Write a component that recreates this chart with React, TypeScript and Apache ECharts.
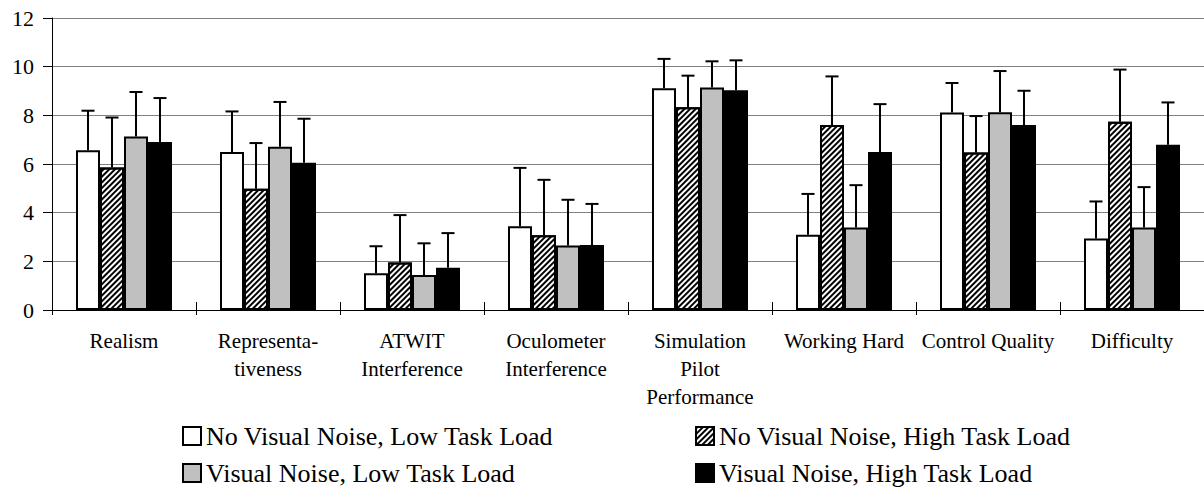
import React, { useEffect, useRef } from "react";
import * as echarts from "echarts";

const categories = [
  "Realism",
  "Representa-\ntiveness",
  "ATWIT\nInterference",
  "Oculometer\nInterference",
  "Simulation\nPilot\nPerformance",
  "Working Hard",
  "Control Quality",
  "Difficulty",
];

const seriesNames = [
  "No Visual Noise, Low Task Load",
  "No Visual Noise, High Task Load",
  "Visual Noise, Low Task Load",
  "Visual Noise, High Task Load",
];

const noNoiseLow = [6.56, 6.49, 1.51, 3.44, 9.11, 3.09, 8.12, 2.94];
const noNoiseHigh = [5.86, 4.98, 1.95, 3.07, 8.33, 7.6, 6.47, 7.74];
const noiseLow = [7.13, 6.71, 1.44, 2.65, 9.14, 3.39, 8.13, 3.39];
const noiseHigh = [6.9, 6.05, 1.74, 2.67, 9.03, 6.49, 7.6, 6.79];

const errNoNoiseLow = [1.63, 1.67, 1.11, 2.4, 1.21, 1.68, 1.21, 1.52];
const errNoNoiseHigh = [2.05, 1.88, 1.95, 2.28, 1.3, 2.0, 1.5, 2.14];
const errNoiseLow = [1.83, 1.84, 1.3, 1.88, 1.08, 1.74, 1.69, 1.66];
const errNoiseHigh = [1.81, 1.81, 1.42, 1.69, 1.23, 1.97, 1.41, 1.74];

const yTicks = [0, 2, 4, 6, 8, 10, 12];

const FONT = "Liberation Serif";
const BAR_W = 24;

export default function App() {
  const ref = useRef<HTMLDivElement>(null);
  useEffect(() => {
    if (!ref.current) return;
    const chart = echarts.init(ref.current, null, { renderer: "svg" });
    const values = [noNoiseLow, noNoiseHigh, noiseLow, noiseHigh];
    const errs = [errNoNoiseLow, errNoNoiseHigh, errNoiseLow, errNoiseHigh];
    const hatch = {
      symbol: "rect",
      symbolSize: 1,
      color: "#000",
      backgroundColor: "#fff",
      dashArrayX: [1, 0],
      dashArrayY: [1.4, 1.4],
      rotation: -Math.PI / 4,
    };
    const fills = ["#ffffff", "#ffffff", "#c0c0c0", "#000000"];

    const barSeries = values.map((vals, i) => ({
      type: "bar",
      name: seriesNames[i],
      data: vals,
      barWidth: BAR_W,
      barGap: "0%",
      itemStyle: {
        color: fills[i],
        borderColor: "#000",
        borderWidth: 2,
        ...(i === 1 ? { decal: hatch } : {}),
      },
      z: 2,
    }));

    const errSeries = values.map((vals, i) => ({
      type: "custom",
      name: "err" + i,
      z: 4,
      data: vals.map((v, k) => [k, v, errs[i][k]]),
      encode: { x: 0, y: 1 },
      renderItem: (params: any, api: any) => {
        const cat = api.value(0);
        const v = api.value(1);
        const e = api.value(2);
        const base = api.coord([cat, v]);
        const top = api.coord([cat, v + e]);
        const x = base[0] + (i - 1.5) * BAR_W;
        return {
          type: "group",
          children: [
            {
              type: "line",
              shape: { x1: x, y1: base[1], x2: x, y2: top[1] },
              style: { stroke: "#000", lineWidth: 2 },
            },
            {
              type: "line",
              shape: { x1: x - 6.5, y1: top[1], x2: x + 6.5, y2: top[1] },
              style: { stroke: "#000", lineWidth: 2 },
            },
          ],
        };
      },
    }));

    const legendPos = [
      { left: 182, top: 422 },
      { left: 695, top: 422 },
      { left: 182, top: 459 },
      { left: 695, top: 459 },
    ];
    const legends = seriesNames.map((n, i) => ({
      data: [n],
      left: legendPos[i].left,
      top: legendPos[i].top,
      padding: 0,
      itemWidth: 18,
      itemHeight: 18,
      icon: "rect",
      itemStyle: { borderColor: "#000", borderWidth: 2 },
      textStyle: { fontFamily: FONT, fontSize: 26, color: "#000", lineHeight: 28 },
    }));

    chart.setOption({
      animation: false,
      backgroundColor: "#fff",
      legend: legends,
      grid: { left: 52, top: 18, width: 1156, height: 292 },
      xAxis: [
        {
          type: "category",
          data: categories,
          axisLine: { show: true, lineStyle: { color: "#000", width: 1 } },
          axisTick: { show: true, length: 5, lineStyle: { color: "#000" } },
          axisLabel: {
            interval: 0,
            margin: 17,
            fontFamily: FONT,
            fontSize: 21,
            color: "#000",
            lineHeight: 28,
          },
        },
        {
          type: "category",
          data: categories,
          position: "bottom",
          axisLine: { show: false },
          axisTick: { show: true, inside: true, length: 8, lineStyle: { color: "#000" } },
          axisLabel: { show: false },
        },
      ],
      yAxis: {
        type: "value",
        min: yTicks[0],
        max: yTicks[yTicks.length - 1],
        interval: 2,
        axisLine: { show: true, lineStyle: { color: "#000", width: 1 } },
        axisTick: { show: true, length: 9, lineStyle: { color: "#000" } },
        axisLabel: { fontFamily: FONT, fontSize: 22, color: "#000", margin: 18 },
        splitLine: { show: true, lineStyle: { color: "#808080", width: 1 } },
      },
      series: [...barSeries, ...errSeries],
    });
    return () => chart.dispose();
  }, []);
  return (
    <div
      ref={ref}
      style={{ position: "fixed", left: 0, top: 0, width: 1204, height: 489, background: "#fff" }}
    />
  );
}
